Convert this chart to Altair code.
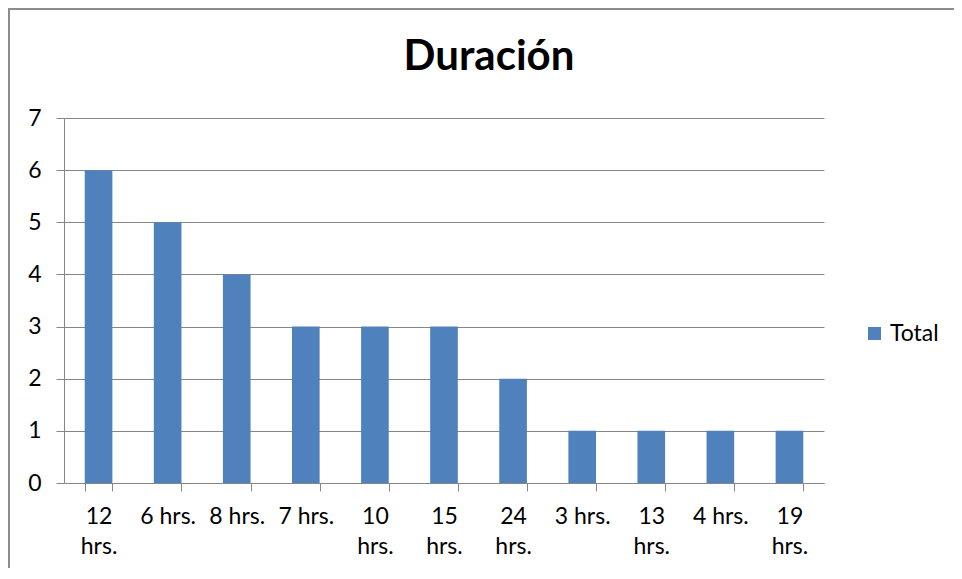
import altair as alt
import pandas as pd

categories = ["12 hrs.", "6 hrs.", "8 hrs.", "7 hrs.", "10 hrs.", "15 hrs.",
              "24 hrs.", "3 hrs.", "13 hrs.", "4 hrs.", "19 hrs."]
totals = [6, 5, 4, 3, 3, 3, 2, 1, 1, 1, 1]
series_name = "Total"
y_ticks = [0, 1, 2, 3, 4, 5, 6, 7]

df = pd.DataFrame({"Duración": categories, "Total": totals,
                   "Serie": [series_name] * len(categories)})

W, H = 760, 365
GRID = "#868686"
FONT = "Lato"

bars = alt.Chart(df).mark_bar().encode(
    x=alt.X("Duración:N", sort=categories, title=None,
            scale=alt.Scale(paddingInner=0.6, paddingOuter=0.3),
            axis=alt.Axis(labelAngle=0, tickBand="extent", grid=False,
                          domainColor=GRID, tickColor=GRID, tickSize=8,
                          labelFont=FONT, labelFontSize=23, labelColor="#000",
                          labelPadding=14, labelLineHeight=30, labelOverlap=False,
                          labelBaseline="top",
                          labelExpr="length(datum.label) > 6 ? split(datum.label, ' ') : datum.label")),
    y=alt.Y("Total:Q", title=None, scale=alt.Scale(domain=[0, 7], nice=False),
            axis=alt.Axis(values=y_ticks, grid=True, gridColor=GRID, domainColor=GRID,
                          tickColor=GRID, tickSize=8, labelFont=FONT, labelFontSize=23,
                          labelColor="#000", labelPadding=15)),
    color=alt.Color("Serie:N", scale=alt.Scale(range=["#4F81BD"]),
                    legend=alt.Legend(title=None, orient="none", legendX=799, legendY=204,
                                      symbolType="square", symbolSize=169,
                                      symbolStrokeWidth=0,
                                      labelFont=FONT, labelFontSize=23, labelColor="#000")),
)

frame_df = pd.DataFrame({"k": [0]})
left_edge = alt.Chart(frame_df).mark_rule(color="#8c8c8c", strokeWidth=2).encode(
    x=alt.value(-55), y=alt.value(-110), y2=alt.value(H + 85))
top_edge = alt.Chart(frame_df).mark_rule(color="#8c8c8c", strokeWidth=2).encode(
    x=alt.value(-56), x2=alt.value(W + 130), y=alt.value(-109))

chart = alt.layer(bars, left_edge, top_edge).properties(
    width=W, height=H,
    title=alt.TitleParams("Duración", font=FONT, fontSize=42, fontWeight="bold",
                          color="#000", anchor="middle", dx=45, offset=-72),
    autosize=alt.AutoSizeParams(type="none"),
    padding={"left": 56, "top": 110, "right": 130, "bottom": 85},
).configure_view(stroke=None)

chart.save("out.html", embed_options={"renderer": "svg", "actions": False})
